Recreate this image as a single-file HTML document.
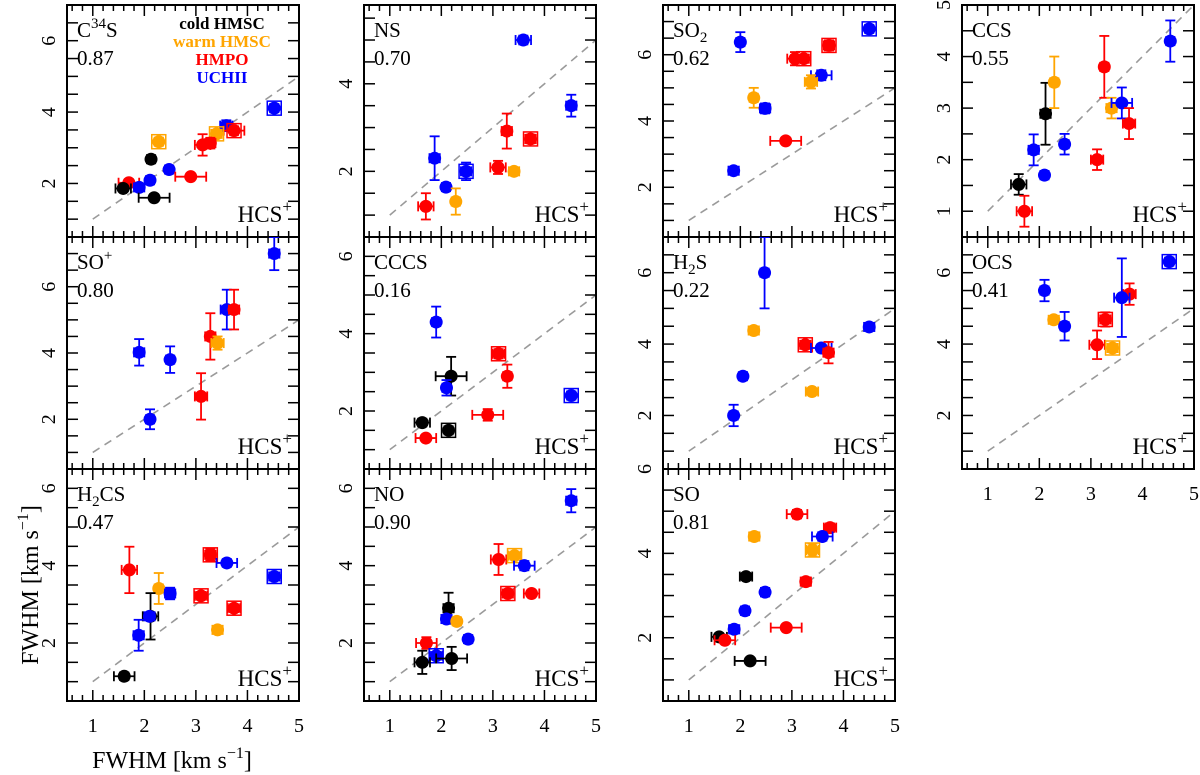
<!DOCTYPE html>
<html><head><meta charset="utf-8">
<style>
html,body{margin:0;padding:0;background:#fff;}
svg{display:block;font-family:"Liberation Serif",serif;}
</style></head>
<body>
<svg id="chart" width="1200" height="775" viewBox="0 0 1200 775" xmlns="http://www.w3.org/2000/svg">
<text x="172" y="768" font-size="24" text-anchor="middle">FWHM [km s<tspan dy="-10" font-size="16">−1</tspan><tspan dy="10">]</tspan></text>
<text transform="translate(38,585) rotate(-90)" font-size="24" text-anchor="middle">FWHM [km s<tspan dy="-10" font-size="16">−1</tspan><tspan dy="10">]</tspan></text>
</svg>
<script>
// ---- data (HCS+ FWHM on x, molecule FWHM on y) ----
const c34s_x=[4.52,3.59,3.74,3.40,2.28,3.13,3.28,2.13,2.48,2.90,2.11,1.70,1.90,1.59,2.19];
const c34s_y=[4.11,3.62,3.48,3.39,3.17,3.08,3.13,2.68,2.39,2.19,2.09,2.02,1.89,1.86,1.60];
const c34s_xe=[0.08,0.12,0.2,0.1,0.08,0.15,0.1,0.08,0.08,0.3,0.08,0.2,0.1,0.15,0.3];
const c34s_ye=[0.1,0.15,0.12,0.1,0.1,0.3,0.15,0.1,0.1,0.08,0.1,0.08,0.1,0.08,0.08];
const c34s_c=['b','b','r','o','o','r','r','k','b','r','b','r','b','k','k'];
const c34s_m=['s','c','s','s','s','c','c','c','c','c','c','c','c','c','c'];

const ns_x=[3.59,4.52,3.27,3.73,1.87,2.48,3.10,3.41,2.09,2.28,1.70];
const ns_y=[5.0,3.5,2.92,2.74,2.3,2.0,2.09,2.0,1.64,1.31,1.2];
const ns_xe=[0.15,0.1,0.1,0.1,0.1,0.1,0.15,0.1,0.08,0.08,0.15];
const ns_ye=[0.1,0.25,0.4,0.1,0.5,0.2,0.15,0.08,0.08,0.3,0.3];
const ns_c=['b','b','r','r','b','b','r','o','b','o','r'];
const ns_m=['c','c','c','s','c','s','c','c','c','c','c'];

const so2_x=[2.0,3.06,3.23,3.72,4.5,3.57,3.37,2.26,2.48,2.88,1.87];
const so2_y=[6.38,5.88,5.88,6.28,6.78,5.38,5.18,4.7,4.38,3.4,2.5];
const so2_xe=[0.08,0.15,0.1,0.1,0.08,0.2,0.12,0.08,0.1,0.3,0.1];
const so2_ye=[0.3,0.2,0.12,0.15,0.1,0.15,0.2,0.3,0.15,0.05,0.08];
const so2_c=['b','r','r','r','b','b','o','o','b','r','b'];
const so2_m=['c','c','s','s','s','c','c','c','c','c','c'];

const ccs_x=[1.6,1.71,1.89,2.1,2.12,2.29,2.49,3.12,3.26,3.4,3.6,3.74,4.54];
const ccs_y=[1.52,1.0,2.19,1.7,2.89,3.5,2.3,2.0,3.8,3.0,3.1,2.7,4.3];
const ccs_xe=[0.15,0.15,0.1,0.08,0.1,0.08,0.08,0.12,0.08,0.1,0.2,0.12,0.08];
const ccs_ye=[0.2,0.3,0.3,0.08,0.6,0.5,0.2,0.2,0.6,0.2,0.3,0.3,0.4];
const ccs_c=['k','r','b','b','k','o','b','r','r','o','b','r','b'];
const ccs_m=['c','c','c','c','c','c','c','c','c','c','c','c','c'];

const sop_x=[4.52,3.6,3.74,3.28,3.42,1.9,2.5,3.1,2.11];
const sop_y=[7.0,5.31,5.31,4.5,4.3,4.02,3.8,2.69,2.0];
const sop_xe=[0.1,0.12,0.1,0.1,0.12,0.1,0.08,0.12,0.08];
const sop_ye=[0.5,0.6,0.6,0.7,0.2,0.4,0.4,0.7,0.3];
const sop_c=['b','b','r','r','o','b','b','r','b'];
const sop_m=['c','c','c','c','c','c','c','c','c'];

const cccs_x=[1.9,3.11,2.19,3.28,2.1,4.52,2.9,1.63,2.14,1.7];
const cccs_y=[4.3,3.48,2.9,2.9,2.6,2.4,1.9,1.7,1.5,1.3];
const cccs_xe=[0.08,0.12,0.3,0.08,0.08,0.08,0.3,0.15,0.08,0.2];
const cccs_ye=[0.4,0.12,0.5,0.3,0.2,0.1,0.15,0.1,0.1,0.08];
const cccs_c=['b','r','k','r','b','b','r','k','k','r'];
const cccs_m=['c','s','c','c','c','s','c','c','s','c'];

const h2s_x=[2.47,2.26,3.26,3.57,3.71,4.5,2.05,3.39,1.87];
const h2s_y=[6.0,4.38,3.98,3.89,3.76,4.48,3.1,2.67,2.0];
const h2s_xe=[0.08,0.1,0.1,0.2,0.1,0.1,0.08,0.12,0.08];
const h2s_ye=[1.0,0.1,0.1,0.1,0.3,0.08,0.08,0.08,0.3];
const h2s_c=['b','o','r','b','r','b','b','o','b'];
const h2s_m=['c','c','s','c','c','c','c','c','c'];

const ocs_x=[4.52,2.1,3.75,3.6,3.28,2.28,2.49,3.12,3.42];
const ocs_y=[6.31,5.5,5.4,5.3,4.69,4.68,4.5,3.98,3.89];
const ocs_xe=[0.08,0.08,0.12,0.15,0.1,0.1,0.08,0.15,0.1];
const ocs_ye=[0.1,0.3,0.3,1.1,0.2,0.1,0.4,0.4,0.1];
const ocs_c=['b','b','r','b','r','o','b','r','o'];
const ocs_m=['s','c','c','c','s','c','c','c','s'];

const h2cs_x=[1.71,2.28,2.5,3.28,3.6,4.52,3.1,3.74,2.12,2.1,3.42,1.89,1.61];
const h2cs_y=[3.89,3.41,3.28,4.28,4.07,3.72,3.22,2.9,2.69,2.69,2.34,2.2,1.14];
const h2cs_xe=[0.15,0.08,0.1,0.1,0.2,0.1,0.12,0.12,0.15,0.1,0.1,0.1,0.2];
const h2cs_ye=[0.6,0.4,0.15,0.15,0.1,0.1,0.1,0.1,0.6,0.1,0.1,0.4,0.1];
const h2cs_c=['r','o','b','r','b','b','r','r','k','b','o','b','k'];
const h2cs_m=['c','c','c','s','c','s','s','s','c','c','c','c','c'];

const no_x=[4.52,3.11,3.42,3.61,3.29,3.75,2.14,2.1,2.3,2.52,1.71,1.9,1.63,2.2];
const no_y=[5.68,4.16,4.26,4.0,3.28,3.28,2.9,2.62,2.56,2.1,2.0,1.67,1.5,1.6];
const no_xe=[0.1,0.15,0.12,0.2,0.1,0.15,0.1,0.1,0.08,0.08,0.2,0.12,0.15,0.3];
const no_ye=[0.3,0.4,0.1,0.12,0.1,0.08,0.4,0.1,0.1,0.1,0.15,0.1,0.3,0.3];
const no_c=['b','r','o','b','r','r','k','b','o','b','r','b','k','k'];
const no_m=['c','c','s','c','s','c','c','c','c','c','c','s','c','c'];

const so_x=[3.1,3.74,3.59,2.27,3.4,2.11,3.27,2.48,2.09,2.89,1.88,1.59,1.7,2.19];
const so_y=[4.93,4.61,4.4,4.4,4.08,3.45,3.33,3.08,2.64,2.24,2.2,2.02,1.94,1.45];
const so_xe=[0.2,0.12,0.2,0.1,0.12,0.12,0.1,0.08,0.08,0.3,0.1,0.15,0.2,0.3];
const so_ye=[0.1,0.1,0.1,0.1,0.15,0.08,0.1,0.1,0.1,0.05,0.1,0.05,0.05,0.05];
const so_c=['r','r','b','o','o','k','r','b','b','r','b','k','r','k'];
const so_m=['c','c','c','c','s','c','c','c','c','c','c','c','c','c'];

const xTickLabels=['1','2','3','4','5'];
const legendLabels=['cold HMSC','warm HMSC','HMPO','UCHII'];
const legendColors=['k','o','r','b'];

// ---- layout ----
const NS='http://www.w3.org/2000/svg';
const svg=document.getElementById('chart');
const COLS=[67,364,663,962], ROWS=[5,237,469], W=232, H=232;
const XMIN=0.5, XMAX=5.0;
const COLORS={k:'#000000',o:'#FFA500',r:'#FF0000',b:'#0000FF'};

const panels=[
 {id:'c34s',col:0,row:0,ymin:0.5,ymax:7.0,yl:[2,4,6],name:['C',['34','sup'],'S'],corr:'0.87',x:c34s_x,y:c34s_y,xe:c34s_xe,ye:c34s_ye,c:c34s_c,m:c34s_m},
 {id:'ns',col:1,row:0,ymin:0.5,ymax:5.8,yl:[2,4],name:['NS'],corr:'0.70',x:ns_x,y:ns_y,xe:ns_xe,ye:ns_ye,c:ns_c,m:ns_m},
 {id:'so2',col:2,row:0,ymin:0.5,ymax:7.5,yl:[2,4,6],name:['SO',['2','sub']],corr:'0.62',x:so2_x,y:so2_y,xe:so2_xe,ye:so2_ye,c:so2_c,m:so2_m},
 {id:'ccs',col:3,row:0,ymin:0.5,ymax:5.0,yl:[1,2,3,4,5],name:['CCS'],corr:'0.55',x:ccs_x,y:ccs_y,xe:ccs_xe,ye:ccs_ye,c:ccs_c,m:ccs_m},
 {id:'sop',col:0,row:1,ymin:0.5,ymax:7.5,yl:[2,4,6],name:['SO',['+','sup']],corr:'0.80',x:sop_x,y:sop_y,xe:sop_xe,ye:sop_ye,c:sop_c,m:sop_m},
 {id:'cccs',col:1,row:1,ymin:0.5,ymax:6.5,yl:[2,4,6],name:['CCCS'],corr:'0.16',x:cccs_x,y:cccs_y,xe:cccs_xe,ye:cccs_ye,c:cccs_c,m:cccs_m},
 {id:'h2s',col:2,row:1,ymin:0.5,ymax:7.0,yl:[2,4,6],name:['H',['2','sub'],'S'],corr:'0.22',x:h2s_x,y:h2s_y,xe:h2s_xe,ye:h2s_ye,c:h2s_c,m:h2s_m},
 {id:'ocs',col:3,row:1,ymin:0.5,ymax:7.0,yl:[2,4,6],name:['OCS'],corr:'0.41',x:ocs_x,y:ocs_y,xe:ocs_xe,ye:ocs_ye,c:ocs_c,m:ocs_m,xlab:true},
 {id:'h2cs',col:0,row:2,ymin:0.5,ymax:6.5,yl:[2,4,6],name:['H',['2','sub'],'CS'],corr:'0.47',x:h2cs_x,y:h2cs_y,xe:h2cs_xe,ye:h2cs_ye,c:h2cs_c,m:h2cs_m,xlab:true},
 {id:'no',col:1,row:2,ymin:0.5,ymax:6.5,yl:[2,4,6],name:['NO'],corr:'0.90',x:no_x,y:no_y,xe:no_xe,ye:no_ye,c:no_c,m:no_m,xlab:true},
 {id:'so',col:2,row:2,ymin:0.5,ymax:6.0,yl:[2,4,6],name:['SO'],corr:'0.81',x:so_x,y:so_y,xe:so_xe,ye:so_ye,c:so_c,m:so_m,xlab:true}
];

function mk(tag,attrs,parent){const e=document.createElementNS(NS,tag);for(const k in attrs)e.setAttribute(k,attrs[k]);(parent||svg).appendChild(e);return e;}

panels.forEach(p=>{
  const L=COLS[p.col], T=ROWS[p.row], R=L+W, B=T+H;
  const sx=v=>L+(v-XMIN)/(XMAX-XMIN)*W;
  const sy=v=>B-(v-p.ymin)/(p.ymax-p.ymin)*H;
  const g=mk('g',{});
  
  
  const cid='clip-'+p.id;
  const cp=mk('clipPath',{id:cid},g); mk('rect',{x:L,y:T,width:W,height:H},cp);
  const dl=mk('line',{x1:sx(1),y1:sy(1),x2:sx(5),y2:sy(5),stroke:'#9a9a9a','stroke-width':1.6,'stroke-dasharray':'8,6','clip-path':'url(#'+cid+')'},g);
  
  
  for(let i=0;i<=25;i++){const v=0.2*i; if(v<XMIN-1e-6||v>XMAX+1e-6)continue; const major=Math.abs(v-Math.round(v))<1e-6; const len=major?11:6; const X=sx(v);
    mk('line',{x1:X,y1:B,x2:X,y2:B-len,stroke:'#000','stroke-width':1.5},g);
    mk('line',{x1:X,y1:T,x2:X,y2:T+len,stroke:'#000','stroke-width':1.5},g);}
  for(let v=Math.ceil(p.ymin*2)/2; v<=p.ymax+1e-6; v+=0.5){const Y=sy(v);
    mk('line',{x1:L,y1:Y,x2:L+11,y2:Y,stroke:'#000','stroke-width':1.5},g);
    mk('line',{x1:R,y1:Y,x2:R-11,y2:Y,stroke:'#000','stroke-width':1.5},g);}
  p.yl.forEach(v=>{const t=mk('text',{transform:`translate(${L-12},${sy(v)}) rotate(-90)`,'font-size':20,'text-anchor':'middle'},g); t.textContent=v;
     });
  if(p.xlab){xTickLabels.forEach(s=>{const t=mk('text',{x:sx(+s),y:B+31,'font-size':20,'text-anchor':'middle'},g); t.textContent=s;
     });}
  const fr=mk('rect',{x:L,y:T,width:W,height:H,fill:'none',stroke:'#000','stroke-width':2},g);
   
  const nt=mk('text',{x:L+10,y:T+32,'font-size':21},g);
   
  p.name.forEach(part=>{ if(typeof part==='string'){const s=mk('tspan',{},nt); s.textContent=part;}
    else {const up=part[1]==='sup'; const s=mk('tspan',{dy:up?-9:5,'font-size':15},nt); s.textContent=part[0]; const r=mk('tspan',{dy:up?9:-5,'font-size':21},nt); r.textContent='\u200b';}});
  const ct=mk('text',{x:L+10,y:T+60,'font-size':21},g); ct.textContent=p.corr;
   
  const ht=mk('text',{x:R-7,y:B-15,'font-size':23,'text-anchor':'end'},g);
   
  const h1=mk('tspan',{},ht); h1.textContent='HCS'; const h2=mk('tspan',{dy:-10,'font-size':17},ht); h2.textContent='+';
  p.x.forEach((xv,i)=>{
    const col=COLORS[p.c[i]], X=sx(xv), Y=sy(p.y[i]);
    const pg=mk('g',{'clip-path':'url(#'+cid+')'},g);
    
    
    const x1=sx(xv-p.xe[i]), x2=sx(xv+p.xe[i]), y1=sy(p.y[i]-p.ye[i]), y2=sy(p.y[i]+p.ye[i]);
    mk('line',{x1:x1,y1:Y,x2:x2,y2:Y,stroke:col,'stroke-width':1.8},pg);
    mk('line',{x1:x1,y1:Y-5,x2:x1,y2:Y+5,stroke:col,'stroke-width':1.8},pg);
    mk('line',{x1:x2,y1:Y-5,x2:x2,y2:Y+5,stroke:col,'stroke-width':1.8},pg);
    mk('line',{x1:X,y1:y1,x2:X,y2:y2,stroke:col,'stroke-width':1.8},pg);
    mk('line',{x1:X-5,y1:y1,x2:X+5,y2:y1,stroke:col,'stroke-width':1.8},pg);
    mk('line',{x1:X-5,y1:y2,x2:X+5,y2:y2,stroke:col,'stroke-width':1.8},pg);
    if(p.m[i]==='s'){mk('rect',{x:X-7,y:Y-7,width:14,height:14,fill:'none',stroke:col,'stroke-width':1.5},pg);}
    mk('circle',{cx:X,cy:Y,r:6.5,fill:col},pg);
  });
  if(p.id==='c34s'){
    legendLabels.forEach((s,i)=>{const t=mk('text',{x:L+155,y:T+24+i*18,'font-size':17,'font-weight':'bold','text-anchor':'middle',fill:COLORS[legendColors[i]]},g); t.textContent=s;
       });
  }
});
</script>
</body></html>
